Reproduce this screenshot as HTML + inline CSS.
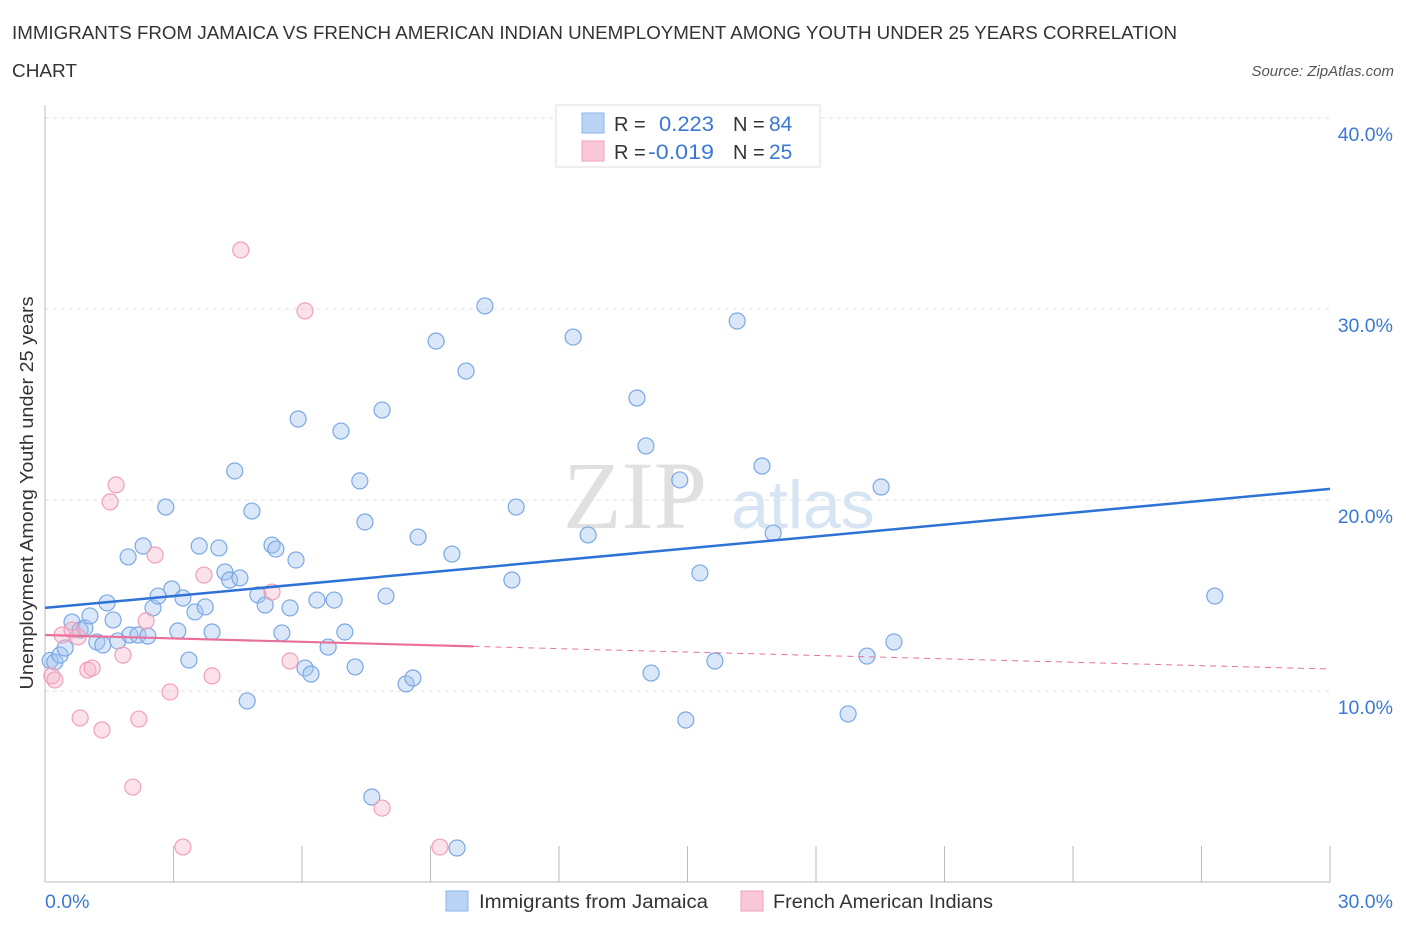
<!DOCTYPE html>
<html><head><meta charset="utf-8"><style>
body{margin:0;background:#fff;font-family:"Liberation Sans",sans-serif;}
svg{display:block}
</style></head><body>
<svg id="chart" width="1406" height="930">
<text x="12" y="39" font-size="18" fill="#333" textLength="1165" lengthAdjust="spacingAndGlyphs">IMMIGRANTS FROM JAMAICA VS FRENCH AMERICAN INDIAN UNEMPLOYMENT AMONG YOUTH UNDER 25 YEARS CORRELATION</text>
<text x="12" y="77" font-size="18" fill="#333" textLength="65" lengthAdjust="spacingAndGlyphs">CHART</text>
<text x="1394" y="76" font-size="15" fill="#555" font-style="italic" text-anchor="end">Source: ZipAtlas.com</text>
<text x="33" y="493" font-size="18" fill="#333" text-anchor="middle" textLength="393" lengthAdjust="spacingAndGlyphs" transform="rotate(-90 33 493)">Unemployment Among Youth under 25 years</text>
<g id="grid"></g>
<text x="635" y="528" font-size="96" fill="#e0e0e0" font-family="Liberation Serif,serif" text-anchor="middle">ZIP</text>
<text x="803" y="528" font-size="68" fill="#d6e4f4" text-anchor="middle">atlas</text>
<g id="marks"></g>
<g>
<rect x="556" y="105" width="264" height="62" fill="#fff" stroke="#ddd"/>
<rect x="582" y="113" width="22" height="20" fill="#b9d3f5" stroke="#8ab4ec"/>
<rect x="582" y="141" width="22" height="20" fill="#f9c7d6" stroke="#f0a3ba"/>
<text x="614" y="131" font-size="20" fill="#333">R =</text><text x="659" y="131" font-size="21" fill="#3a78d6" textLength="55" lengthAdjust="spacingAndGlyphs">0.223</text>
<text x="733" y="131" font-size="20" fill="#333">N =</text><text x="769" y="131" font-size="21" fill="#3a78d6">84</text>
<text x="614" y="159" font-size="20" fill="#333">R =</text><text x="648" y="159" font-size="21" fill="#3a78d6" textLength="66" lengthAdjust="spacingAndGlyphs">-0.019</text>
<text x="733" y="159" font-size="20" fill="#333">N =</text><text x="769" y="159" font-size="21" fill="#3a78d6">25</text>
</g>
<g>
<rect x="446" y="891" width="22" height="20" fill="#b9d3f5" stroke="#8ab4ec"/>
<text x="479" y="908" font-size="19" fill="#333" textLength="229" lengthAdjust="spacingAndGlyphs">Immigrants from Jamaica</text>
<rect x="741" y="891" width="22" height="20" fill="#f9c7d6" stroke="#f0a3ba"/>
<text x="773" y="908" font-size="19" fill="#333" textLength="220" lengthAdjust="spacingAndGlyphs">French American Indians</text>
</g>
</svg>
<script>
const yTicks=[10,20,30,40];
const yTickLabels=["10.0%","20.0%","30.0%","40.0%"];
const xTickVals=[0,3,6,9,12,15,18,21,24,27,30];
const xLabels=["0.0%","30.0%"];
const blueX=[0.12,0.23,0.35,0.47,0.63,0.82,0.93,1.05,1.21,1.35,1.45,1.59,1.70,1.94,1.98,2.17,2.29,2.40,2.52,2.64,2.82,2.96,3.10,3.22,3.36,3.50,3.60,3.74,3.90,4.06,4.20,4.31,4.43,4.55,4.72,4.83,4.97,5.14,5.30,5.39,5.53,5.72,5.86,5.91,6.07,6.21,6.35,6.61,6.75,6.91,7.00,7.24,7.35,7.47,7.63,7.87,7.96,8.43,8.59,8.71,9.13,9.50,9.83,9.62,10.27,10.90,11.00,12.33,12.68,13.82,14.03,14.15,14.82,14.96,15.29,15.64,16.16,16.74,17.00,18.75,19.19,19.52,19.82,27.31];
const blueY=[11.6,11.52,11.88,12.25,13.61,13.19,13.30,13.93,12.57,12.41,14.61,13.72,12.62,17.02,12.93,12.93,17.59,12.88,14.35,14.97,19.63,15.34,13.14,14.87,11.62,14.14,17.59,14.40,13.09,17.49,16.23,15.81,21.52,15.92,9.48,19.42,15.03,14.50,17.64,17.43,13.04,14.35,16.86,24.24,11.20,10.89,14.76,12.30,14.76,23.61,13.09,11.26,21.00,18.85,4.45,24.71,14.97,10.37,10.68,18.06,28.32,17.17,26.75,1.78,30.16,15.81,19.63,28.53,18.17,25.34,22.83,10.94,21.05,8.48,16.18,11.57,29.37,21.78,18.27,8.80,11.83,20.68,12.57,14.97];
const pinkX=[0.16,0.23,0.40,0.63,0.77,0.82,1.00,1.10,1.33,1.52,1.66,1.82,2.05,2.19,2.36,2.57,2.92,3.22,3.71,3.90,4.57,5.30,5.72,6.07,7.87,9.22];
const pinkY=[10.79,10.58,12.93,13.19,12.83,8.59,11.10,11.20,7.96,19.90,20.79,11.88,4.97,8.53,13.67,17.12,9.95,1.83,16.07,10.79,33.09,15.18,11.57,29.90,3.87,1.83];
const blueTrend=[14.35,20.58];
const pinkTrend=[12.93,11.15];
const pinkSolidEnd=10;
const X0=45,X1=1330,Y0=882,PXPER=19.1;
const sx=v=>X0+(X1-X0)*v/30, sy=v=>Y0-v*PXPER;
const NS="http://www.w3.org/2000/svg";
function mk(t,a,p){const e=document.createElementNS(NS,t);for(const k in a)e.setAttribute(k,a[k]);p.appendChild(e);return e;}
const grid=document.getElementById('grid'),marks=document.getElementById('marks');
yTicks.forEach((v,i)=>{
 const g=mk('line',{x1:45,x2:1330,y1:sy(v),y2:sy(v),stroke:'#e2e2e2','stroke-dasharray':'4,4'},grid);
 
 
 const t=mk('text',{x:1393,y:sy(v)+23,'font-size':19.5,fill:'#3a78d6','text-anchor':'end'},grid);t.textContent=yTickLabels[i];
 
 
});
const ax=mk('line',{x1:45,x2:45,y1:105,y2:882,stroke:'#bbb'},grid);


const bx=mk('line',{x1:45,x2:1330,y1:882,y2:882,stroke:'#bbb'},grid);


xTickVals.forEach(v=>{const t=mk('line',{x1:sx(v),x2:sx(v),y1:846,y2:882,stroke:'#bbb'},grid);
 
 });
[[0,'start',45],[30,'end',1393]].forEach((d,i)=>{const t=mk('text',{x:d[2],y:908,'font-size':19.5,fill:'#3a78d6','text-anchor':d[1]},grid);t.textContent=xLabels[i];
 
 });
blueX.forEach((x,i)=>{const c=mk('circle',{cx:sx(x),cy:sy(blueY[i]),r:8,fill:'rgba(160,196,240,0.4)',stroke:'#7aa8e4','stroke-width':1.2},marks);
 
 });
pinkX.forEach((x,i)=>{const c=mk('circle',{cx:sx(x),cy:sy(pinkY[i]),r:8,fill:'rgba(245,180,200,0.4)',stroke:'#f0a0b8','stroke-width':1.2},marks);
 
 });
const bl=mk('line',{x1:sx(0),y1:sy(blueTrend[0]),x2:sx(30),y2:sy(blueTrend[1]),stroke:'#2f72d6','stroke-width':2.5},marks);


const pm=pinkTrend[0]+(pinkTrend[1]-pinkTrend[0])*pinkSolidEnd/30;
const pl=mk('line',{x1:sx(0),y1:sy(pinkTrend[0]),x2:sx(pinkSolidEnd),y2:sy(pm),stroke:'#e8709a','stroke-width':2.2},marks);


const pd=mk('line',{x1:sx(pinkSolidEnd),y1:sy(pm),x2:sx(30),y2:sy(pinkTrend[1]),stroke:'#e8709a','stroke-width':1,'stroke-dasharray':'6,5'},marks);


</script>
</body></html>
